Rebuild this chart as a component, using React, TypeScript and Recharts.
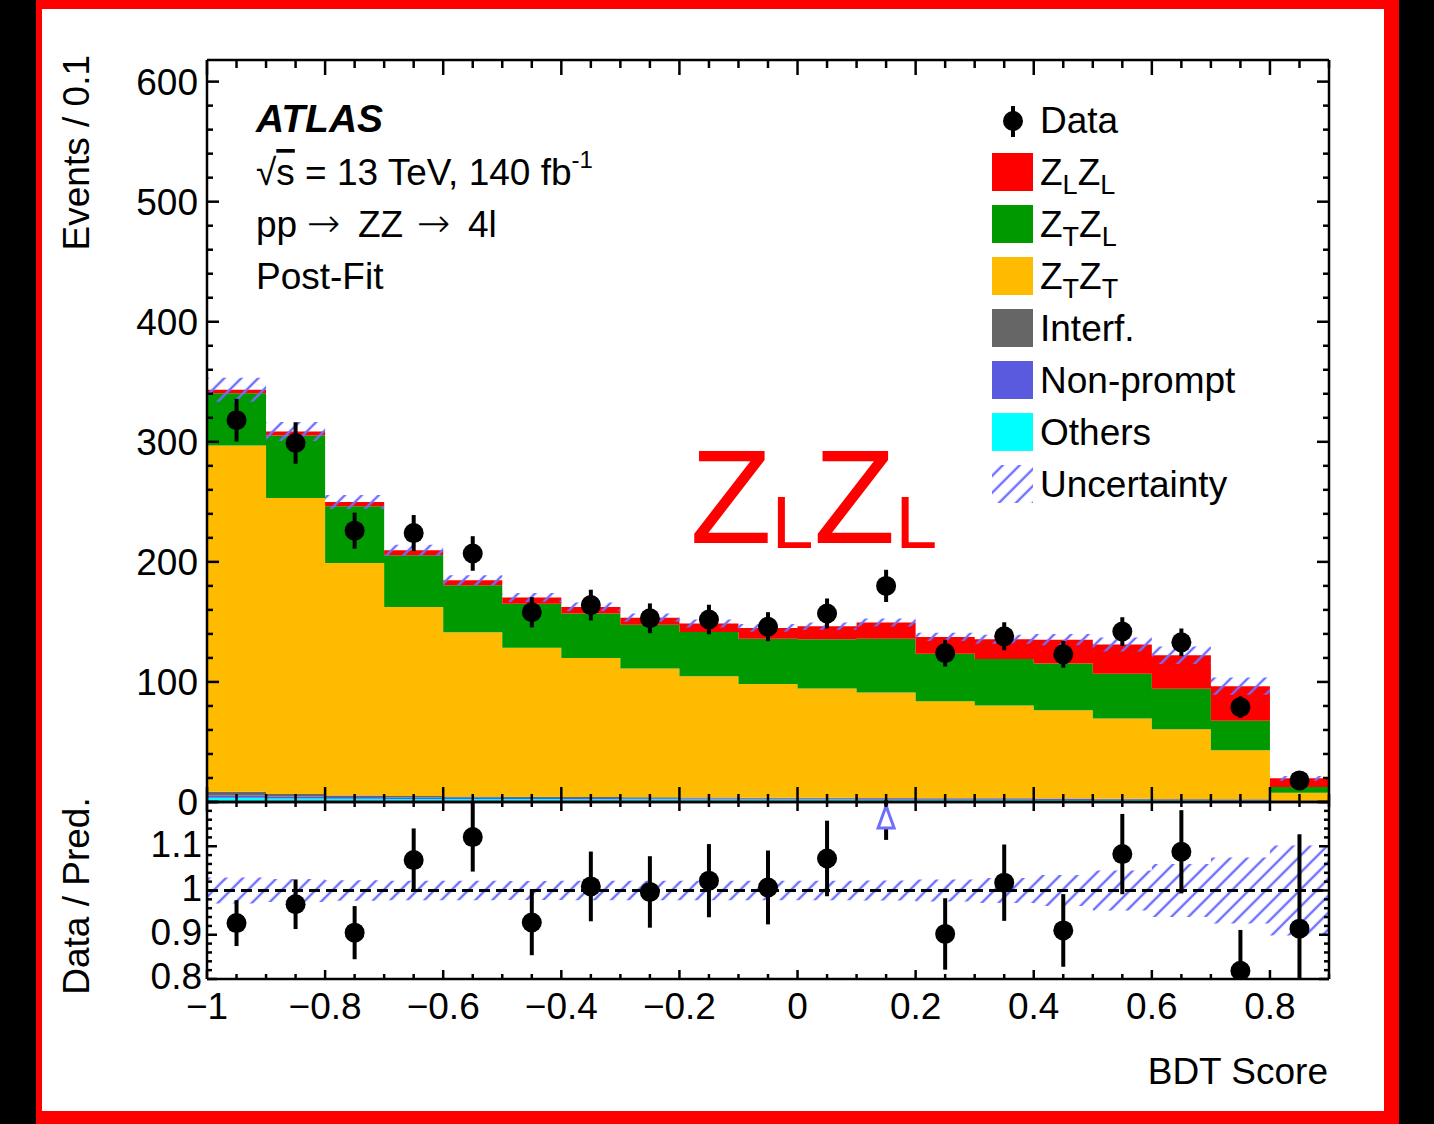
import React from 'react';
import { ComposedChart, Area, Scatter, ErrorBar, XAxis, YAxis, ReferenceLine } from 'recharts';

// ---------------- data ----------------
const binCenters = [-0.95, -0.85, -0.75, -0.65, -0.55, -0.45, -0.35, -0.25, -0.15, -0.05, 0.05, 0.15, 0.25, 0.35, 0.45, 0.55, 0.65, 0.75, 0.85];
const binEdges = [-1, -0.9, -0.8, -0.7, -0.6, -0.5, -0.4, -0.3, -0.2, -0.1, 0, 0.1, 0.2, 0.3, 0.4, 0.5, 0.6, 0.7, 0.8, 0.9];

const others = [3.5, 3.0, 2.8, 2.6, 2.5, 2.4, 2.3, 2.2, 2.1, 2.0, 2.0, 1.9, 1.8, 1.8, 1.7, 1.6, 1.5, 1.3, 0.6];
const nonPrompt = [2.0, 1.6, 1.4, 1.2, 1.1, 1.0, 1.0, 0.9, 0.9, 0.8, 0.8, 0.8, 0.7, 0.7, 0.7, 0.6, 0.6, 0.5, 0.3];
const interf = [3.0, 2.1, 1.3, 1.2, 1.0, 0.9, 0.8, 0.8, 0.7, 0.7, 0.7, 0.6, 0.6, 0.6, 0.5, 0.5, 0.5, 0.4, 0.2];
const ztzt = [288.5, 246.5, 193.6, 157.5, 136.8, 124.1, 115.9, 107.3, 101.1, 94.7, 91.1, 87.8, 80.9, 77.3, 73.6, 66.9, 57.9, 40.8, 6.6];
const ztzl = [43.5, 52.1, 47.2, 43.0, 39.1, 36.7, 36.9, 36.5, 36.8, 37.8, 41.0, 44.9, 39.5, 38.6, 38.9, 37.3, 33.8, 24.6, 4.8];
const zlzl = [2.8, 3.3, 3.5, 4.1, 4.2, 5.2, 5.6, 5.8, 7.1, 9.0, 10.8, 13.5, 14.0, 16.6, 19.8, 24.3, 28.0, 28.9, 7.2];
const dataCounts = [318, 299, 226, 224, 207, 158, 164, 153, 152, 146, 157, 180, 124, 138, 123, 142, 133, 79, 18];
const dataErrors = [17.8, 17.3, 15.0, 15.0, 14.4, 12.6, 12.8, 12.4, 12.3, 12.1, 12.5, 13.4, 11.1, 11.7, 11.1, 11.9, 11.5, 8.9, 4.2];
const uncertainty = [10, 8, 5.8, 4.6, 4.1, 3.7, 3.6, 3.4, 3.3, 3.2, 3.2, 3.4, 3.4, 3.8, 4.7, 5.9, 7.3, 7.2, 2.0];

const xMajorTicks = [-1, -0.8, -0.6, -0.4, -0.2, 0, 0.2, 0.4, 0.6, 0.8];
const yMajorTicks = [0, 100, 200, 300, 400, 500, 600];
const ratioMajorTicks = [0.8, 0.9, 1, 1.1];

const X_DOMAIN: [number, number] = [-1, 0.9];
const Y_DOMAIN: [number, number] = [0, 618];
const R_DOMAIN: [number, number] = [0.8, 1.2];

const stackSeries = [
  { key: 'others', values: others, color: '#00ffff' },
  { key: 'nonPrompt', values: nonPrompt, color: '#5a5ade' },
  { key: 'interf', values: interf, color: '#666666' },
  { key: 'ztzt', values: ztzt, color: '#ffbb00' },
  { key: 'ztzl', values: ztzl, color: '#009900' },
  { key: 'zlzl', values: zlzl, color: '#ff0000' },
];

const legendItems = [
  { label: 'Z_LZ_L', color: '#ff0000' },
  { label: 'Z_TZ_L', color: '#009900' },
  { label: 'Z_TZ_T', color: '#ffbb00' },
  { label: 'Interf.', color: '#666666' },
  { label: 'Non-prompt', color: '#5a5ade' },
  { label: 'Others', color: '#00ffff' },
];

// ---------------- derived tables ----------------
const totals = binCenters.map((_, i) => stackSeries.reduce((s, ser) => s + ser.values[i], 0));

const edgeRows = binEdges.map((x, e) => {
  const i = Math.min(e, binCenters.length - 1);
  const row: any = { x };
  stackSeries.forEach((s) => { row[s.key] = s.values[i]; });
  row.band = [totals[i] - uncertainty[i], totals[i] + uncertainty[i]];
  row.rband = [1 - uncertainty[i] / totals[i], 1 + uncertainty[i] / totals[i]];
  return row;
});

const dataPts = binCenters.map((x, i) => ({ x, y: dataCounts[i], err: dataErrors[i] }));
// error bars of the ratio are cut at the frame of the panel
const ratioPts = binCenters.map((x, i) => {
  const r = dataCounts[i] / totals[i];
  const e = dataErrors[i] / totals[i];
  const lo = Math.max(0, Math.min(e, r - R_DOMAIN[0]));
  const hi = Math.max(0, Math.min(e, R_DOMAIN[1] - r));
  return { x, r, rErr: [lo, hi], over: r > R_DOMAIN[1] };
});

// ---------------- layout constants ----------------
const FONT = '"Liberation Sans", Arial, Helvetica, sans-serif';
const FS = 37;
const W = 1434;
const PLOT_LEFT = 207;
const PLOT_RIGHT = 1329;
const UP_TOP = 60;
const SPLIT = 802;
const LOW_BOTTOM = 979;
const LOW_CHART_TOP = 790;
const HATCH = '#6e6eff';

function range(start: number, stop: number, step: number) {
  const n = Math.round((stop - start) / step);
  return Array.from({ length: n + 1 }, (_, k) => Math.round((start + k * step) * 1e4) / 1e4);
}
const xTicksAll = range(-1, 0.9, 0.05);
const yTicksAll = range(0, 600, 20);
const rTicksAll = range(0.8, 1.2, 0.02);

const fmtNum = (v: number) => {
  const s = String(Number(Math.abs(v).toFixed(2)));
  return v < -1e-9 ? '\u2212' + s : s;
};

type TickOpts = {
  side: 'top' | 'bottom' | 'left' | 'right';
  step: number;
  major: number;
  minor: number;
  labels?: number[];
  gap?: number;
  lift?: number;
};

const makeTick = (o: TickOpts) => (props: any) => {
  const x = Number(props.x);
  const y = Number(props.y);
  const v = Number(props.payload.value);
  const q = v / o.step;
  const isMajor = Math.abs(q - Math.round(q)) < 1e-6;
  const len = isMajor ? o.major : o.minor;
  let x2 = x;
  let y2 = y;
  if (o.side === 'bottom') y2 = y - len;
  else if (o.side === 'top') y2 = y + len;
  else if (o.side === 'left') x2 = x + len;
  else x2 = x - len;
  const show = !!o.labels && o.labels.some((l) => Math.abs(l - v) < 1e-6);
  return (
    <g>
      <line x1={x} y1={y} x2={x2} y2={y2} stroke="#000" strokeWidth={2.5} />
      {show && o.side === 'bottom' && (
        <text x={x} y={y + (o.gap || 0)} textAnchor="middle" fontFamily={FONT} fontSize={FS} fill="#000">
          {fmtNum(v)}
        </text>
      )}
      {show && o.side === 'left' && (
        <text x={x - (o.gap || 0)} y={y - (o.lift || 0)} dy="0.36em" textAnchor="end" fontFamily={FONT} fontSize={FS} fill="#000">
          {fmtNum(v)}
        </text>
      )}
    </g>
  );
};

const axisLine = { stroke: '#000', strokeWidth: 2.5 };

const dataShape = (p: any) => <circle cx={p.cx} cy={p.cy} r={10} fill="#000" />;

const ratioShape = (p: any) => {
  if (p.payload && p.payload.over) {
    const cx = p.cx;
    const t = SPLIT - LOW_CHART_TOP + 4; // just under the top of the ratio frame
    return (
      <g>
        <polygon points={`${cx},${t} ${cx - 8},${t + 22} ${cx + 8},${t + 22}`} fill="#fff" stroke={HATCH} strokeWidth={3} />
      </g>
    );
  }
  return <circle cx={p.cx} cy={p.cy} r={10} fill="#000" />;
};

function SubLabel({ label, x, y, size, subSize, shift, fill, weight }: any) {
  const parts = label.match(/_[A-Za-z0-9]|[^_]+?(?=_|$)/g) || [label];
  const out: any[] = [];
  let cur = 0;
  parts.forEach((p: string, k: number) => {
    if (p.startsWith('_')) {
      out.push(
        <tspan key={k} fontSize={subSize} dy={shift - cur}>
          {p.slice(1)}
        </tspan>
      );
      cur = shift;
    } else {
      out.push(
        <tspan key={k} fontSize={size} dy={0 - cur}>
          {p}
        </tspan>
      );
      cur = 0;
    }
  });
  return (
    <text x={x} y={y} fontFamily={FONT} fontSize={size} fill={fill || '#000'} fontWeight={weight || 'normal'}>
      {out}
    </text>
  );
}

function Hatch({ id }: { id: string }) {
  return (
    <pattern id={id} patternUnits="userSpaceOnUse" width={12} height={12} patternTransform="rotate(45)">
      <line x1={6} y1={0} x2={6} y2={12} stroke={HATCH} strokeWidth={2.4} />
    </pattern>
  );
}

const axisCommon = {
  interval: 0 as const,
  tickSize: 0,
  tickMargin: 0,
  tickLine: false,
  axisLine,
  allowDataOverflow: true,
  type: 'number' as const,
};

function UpperPanel() {
  return (
    <ComposedChart
      width={W}
      height={SPLIT + 28}
      data={edgeRows}
      margin={{ top: UP_TOP - 1, right: W - PLOT_RIGHT - 1, bottom: 27, left: PLOT_LEFT - 1 }}
    >
      <defs>
        <Hatch id="hatchUp" />
      </defs>
      {stackSeries.map((s) => (
        <Area
          key={s.key}
          xAxisId="b"
          yAxisId="l"
          dataKey={s.key}
          stackId="mc"
          type="stepAfter"
          stroke="none"
          fill={s.color}
          fillOpacity={1}
          isAnimationActive={false}
          dot={false}
          activeDot={false}
        />
      ))}
      <Area
        xAxisId="b"
        yAxisId="l"
        dataKey="band"
        type="stepAfter"
        stroke="none"
        fill="url(#hatchUp)"
        fillOpacity={1}
        isAnimationActive={false}
        dot={false}
        activeDot={false}
      />
      <Scatter xAxisId="b" yAxisId="l" data={dataPts} dataKey="y" shape={dataShape} isAnimationActive={false}>
        <ErrorBar dataKey="err" direction="y" width={0} stroke="#000" strokeWidth={4} isAnimationActive={false} />
      </Scatter>
      <XAxis
        {...axisCommon}
        xAxisId="b"
        dataKey="x"
        orientation="bottom"
        domain={X_DOMAIN}
        ticks={xTicksAll}
        height={1}
        tick={makeTick({ side: 'bottom', step: 0.2, major: 15, minor: 8 })}
      />
      <XAxis
        {...axisCommon}
        xAxisId="t"
        dataKey="x"
        orientation="top"
        domain={X_DOMAIN}
        ticks={xTicksAll}
        height={1}
        tick={makeTick({ side: 'top', step: 0.2, major: 15, minor: 8 })}
      />
      <YAxis
        {...axisCommon}
        yAxisId="l"
        orientation="left"
        domain={Y_DOMAIN}
        ticks={yTicksAll}
        width={1}
        tick={makeTick({ side: 'left', step: 100, major: 12, minor: 6, labels: yMajorTicks, gap: 9 })}
      />
      <YAxis
        {...axisCommon}
        yAxisId="r"
        orientation="right"
        domain={Y_DOMAIN}
        ticks={yTicksAll}
        width={1}
        tick={makeTick({ side: 'right', step: 100, major: 12, minor: 6 })}
      />
    </ComposedChart>
  );
}

function LowerPanel() {
  const h = 1124 - LOW_CHART_TOP;
  return (
    <ComposedChart
      width={W}
      height={h}
      data={edgeRows}
      margin={{ top: SPLIT - LOW_CHART_TOP - 1, right: W - PLOT_RIGHT - 1, bottom: 1124 - LOW_BOTTOM - 1, left: PLOT_LEFT - 1 }}
    >
      <defs>
        <Hatch id="hatchLow" />
      </defs>
      <Area
        xAxisId="b"
        yAxisId="l"
        dataKey="rband"
        type="stepAfter"
        stroke="none"
        fill="url(#hatchLow)"
        fillOpacity={1}
        isAnimationActive={false}
        dot={false}
        activeDot={false}
      />
      <ReferenceLine xAxisId="b" yAxisId="l" y={1} stroke="#000" strokeWidth={3} strokeDasharray="11 6" />
      <Scatter xAxisId="b" yAxisId="l" data={ratioPts} dataKey="r" shape={ratioShape} isAnimationActive={false}>
        <ErrorBar dataKey="rErr" direction="y" width={0} stroke="#000" strokeWidth={4} isAnimationActive={false} />
      </Scatter>
      <XAxis
        {...axisCommon}
        xAxisId="b"
        dataKey="x"
        orientation="bottom"
        domain={X_DOMAIN}
        ticks={xTicksAll}
        height={1}
        tick={makeTick({ side: 'bottom', step: 0.2, major: 9, minor: 5, labels: xMajorTicks, gap: 40 })}
      />
      <XAxis
        {...axisCommon}
        xAxisId="t"
        dataKey="x"
        orientation="top"
        domain={X_DOMAIN}
        ticks={xTicksAll}
        height={1}
        tick={makeTick({ side: 'top', step: 0.2, major: 9, minor: 5 })}
      />
      <YAxis
        {...axisCommon}
        yAxisId="l"
        orientation="left"
        domain={R_DOMAIN}
        ticks={rTicksAll}
        width={1}
        tick={makeTick({ side: 'left', step: 0.1, major: 10, minor: 5, labels: ratioMajorTicks, gap: 5, lift: 3 })}
      />
      <YAxis
        {...axisCommon}
        yAxisId="r"
        orientation="right"
        domain={R_DOMAIN}
        ticks={rTicksAll}
        width={1}
        tick={makeTick({ side: 'right', step: 0.1, major: 10, minor: 5 })}
      />
    </ComposedChart>
  );
}

function Overlay() {
  const rowY = (k: number) => 172 + k * 52;
  const ARROW = '"DejaVu Sans", sans-serif';
  return (
    <svg width={W} height={1124} style={{ position: 'absolute', left: 0, top: 0, pointerEvents: 'none' }}>
      <defs>
        <Hatch id="hatchLeg" />
      </defs>
      {/* axis titles */}
      <text x={89} y={55} transform="rotate(-90 89 55)" textAnchor="end" fontFamily={FONT} fontSize={FS} fill="#000">
        Events / 0.1
      </text>
      <text x={89} y={896} transform="rotate(-90 89 896)" textAnchor="middle" fontFamily={FONT} fontSize={FS} fill="#000">
        Data / Pred.
      </text>
      <text x={1328} y={1084} textAnchor="end" fontFamily={FONT} fontSize={FS} fill="#000">
        BDT Score
      </text>
      {/* ATLAS block */}
      <text x={256} y={132} fontFamily={FONT} fontSize={39} fontWeight="bold" fontStyle="italic" fill="#000">
        ATLAS
      </text>
      <text x={256} y={185} fontFamily={FONT} fontSize={FS} fill="#000">
        {'\u221A'}
        <tspan style={{ textDecoration: 'overline' }}>s</tspan>
        {' = 13 TeV, 140 fb'}
        <tspan fontSize={24} dy={-17}>
          -1
        </tspan>
      </text>
      <text y={237} fontFamily={FONT} fontSize={FS} fill="#000">
        <tspan x={256}>pp</tspan>
        <tspan x={307} fontFamily={ARROW} fontSize={40} fontWeight="200">{'\u2192'}</tspan>
        <tspan x={358}>ZZ</tspan>
        <tspan x={417} fontFamily={ARROW} fontSize={40} fontWeight="200">{'\u2192'}</tspan>
        <tspan x={468}>4l</tspan>
      </text>
      <text x={256} y={289} fontFamily={FONT} fontSize={FS} fill="#000">
        Post-Fit
      </text>
      {/* big annotation */}
      <SubLabel label="Z_LZ_L" x={690} y={543} size={134} subSize={75} shift={5} fill="#ff0000" />
      {/* legend */}
      <line x1={1013} y1={106} x2={1013} y2={137} stroke="#000" strokeWidth={4} />
      <circle cx={1013} cy={121} r={10} fill="#000" />
      <text x={1040} y={133} fontFamily={FONT} fontSize={FS} fill="#000">
        Data
      </text>
      {legendItems.map((it, k) => (
        <g key={it.label}>
          <rect x={992} y={rowY(k) - 19} width={41} height={38} fill={it.color} />
          <SubLabel label={it.label} x={1040} y={rowY(k) + 13} size={FS} subSize={27} shift={9} />
        </g>
      ))}
      <rect x={992} y={rowY(6) - 19} width={41} height={38} fill="url(#hatchLeg)" />
      <text x={1040} y={rowY(6) + 13} fontFamily={FONT} fontSize={FS} fill="#000">
        Uncertainty
      </text>
    </svg>
  );
}

export default function App() {
  return (
    <div
      style={{
        position: 'fixed',
        left: 0,
        top: 0,
        width: W,
        height: 1124,
        background: '#000',
        overflow: 'hidden',
        fontFamily: FONT,
      }}
    >
      <div style={{ position: 'absolute', left: 36, top: 0, width: 1399 - 36, height: 1124, background: '#ff0000' }} />
      <div style={{ position: 'absolute', left: 42, top: 9, width: 1384 - 42, height: 1111 - 9, background: '#ffffff' }} />
      <div style={{ position: 'absolute', left: 0, top: 0 }}>
        <UpperPanel />
      </div>
      <div style={{ position: 'absolute', left: 0, top: LOW_CHART_TOP }}>
        <LowerPanel />
      </div>
      <Overlay />
    </div>
  );
}
